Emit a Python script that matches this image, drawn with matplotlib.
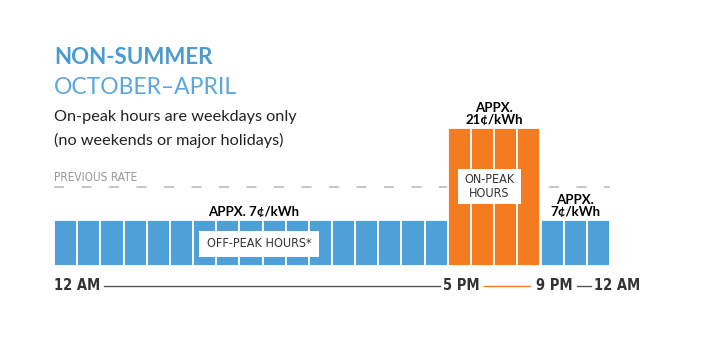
import matplotlib
matplotlib.use("Agg")
import matplotlib.pyplot as plt
from matplotlib.lines import Line2D
from matplotlib.patches import Rectangle

# ---- data ----
hours = list(range(24))
rates = [7] * 17 + [21] * 4 + [7] * 3
previous_rate = 12
peak_start, peak_end = 17, 21
title = "NON-SUMMER"
subtitle = "OCTOBER\u2013APRIL"
note = ["On-peak hours are weekdays only", "(no weekends or major holidays)"]
tick_labels = ["12 AM", "5 PM", "9 PM", "12 AM"]

BLUE = "#4F9FD9"
ORANGE = "#F47B20"
TITLE_BLUE = "#4A9AD3"
SUB_BLUE = "#5BA6DA"
DARK = "#222222"
GRAY = "#999999"

W, H = 707, 353
fig = plt.figure(figsize=(W / 100, H / 100), dpi=100)
fig.patch.set_facecolor("white")

def fx(px):
    return px / W

def fy(py):
    return 1 - py / H

y0_px = 266
per_unit = 138 / 21
ax = fig.add_axes([fx(54), fy(y0_px), fx(610) - fx(54), 24 * per_unit / H])
ax.set_xlim(0, 24)
ax.set_ylim(0, 24)
ax.axis("off")

colors = [ORANGE if peak_start <= h < peak_end else BLUE for h in hours]
ax.bar(hours, rates, width=1, align="edge", color=colors,
       edgecolor="white", linewidth=1.3, zorder=2)

ax.plot([0, 24], [previous_rate, previous_rate], color="#BBBBBB",
        linestyle=(0, (6, 10.5)), linewidth=1.2, zorder=1)

cond = dict(family=["DejaVu Sans"], fontstretch="condensed")
bold_font = ["Lato", "DejaVu Sans"]

ax.text(0, previous_rate + 0.55, "PREVIOUS RATE", color=GRAY, fontsize=8.5,
        ha="left", va="bottom", **cond)

off_mid = 8.6
ax.text(off_mid, 7 + 0.3, "APPX. 7\u00a2/kWh", fontsize=9.5, fontweight="bold",
        family=bold_font, ha="center", va="bottom", color="black")
ax.text((peak_start + peak_end) / 2, 21 + 0.3, "APPX.\n21\u00a2/kWh", fontsize=9.5,
        fontweight="bold", family=bold_font, ha="center", va="bottom",
        color="black", linespacing=1.0)
ax.text((peak_end + 24) / 2, 7 + 0.3, "APPX.\n7\u00a2/kWh", fontsize=9.5,
        fontweight="bold", family=bold_font, ha="center", va="bottom",
        color="black", linespacing=1.0)

ax.add_patch(Rectangle((6.25, 1.4), 5.2, 3.9, facecolor="white",
                       edgecolor="none", zorder=3))
ax.text(6.25 + 2.6, 1.4 + 1.95, "OFF-PEAK HOURS*", fontsize=9,
        color="#333333", ha="center", va="center", zorder=4, **cond)
ax.add_patch(Rectangle((17.45, 9.5), 2.7, 5.3, facecolor="white",
                       edgecolor="none", zorder=3))
ax.text(17.45 + 1.35, 9.5 + 2.65, "ON-PEAK\nHOURS", fontsize=9,
        color="#333333", ha="center", va="center", zorder=4, linespacing=1.1,
        **cond)

fig.text(fx(54), fy(58), title, fontsize=16, fontweight="bold",
         family=["Lato", "DejaVu Sans"], color=TITLE_BLUE, va="center")
fig.text(fx(54), fy(88), subtitle, fontsize=16.5, fontweight="normal",
         family=["Lato", "DejaVu Sans"], color=SUB_BLUE, va="center")
fig.text(fx(54), fy(117), note[0], fontsize=11.7, family=["Lato", "DejaVu Sans"],
         color=DARK, va="center")
fig.text(fx(54), fy(140), note[1], fontsize=11.7, family=["Lato", "DejaVu Sans"],
         color=DARK, va="center")

ty = fy(286)
tk = dict(fontsize=10.5, fontweight="bold", color="#333333", va="center", **cond)
fig.text(fx(54), ty, tick_labels[0], ha="left", **tk)
fig.text(fx(461), ty, tick_labels[1], ha="center", **tk)
fig.text(fx(554), ty, tick_labels[2], ha="center", **tk)
fig.text(fx(640), ty, tick_labels[3], ha="right", **tk)
for (a, b, c) in [(104, 440, "#555555"), (484, 530, ORANGE), (577, 591, "#555555")]:
    fig.add_artist(Line2D([fx(a), fx(b)], [ty, ty], color=c, linewidth=1.0))

fig.savefig("out.png", dpi=100, facecolor="white")
